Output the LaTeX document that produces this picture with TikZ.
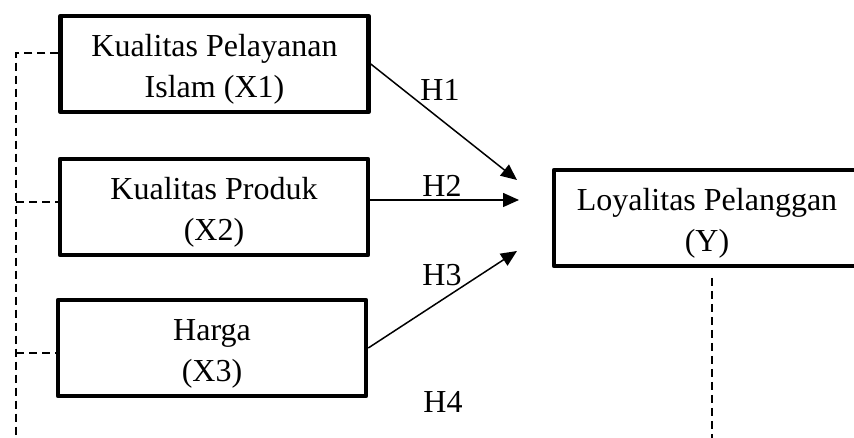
\documentclass[tikz,border=0pt]{standalone}
\usepackage{fontspec}
\setmainfont{Liberation Serif}
\usetikzlibrary{positioning}
\usetikzlibrary{arrows.meta}
\tikzset{var/.style = {draw, line width = 4.5pt, line join = round, align = center,
    minimum width = 308pt, minimum height = 96pt, inner sep = 0,
    font = \fontsize{32}{41}\selectfont}}
\tikzset{hyp/.style = {line width = 1.5pt, -{Triangle[length=16pt, width=14pt]}}}
\tikzset{link/.style = {line width = 1.4pt, dash pattern = on 8pt off 5pt}}
\tikzset{lab/.style = {font = \fontsize{32}{36}\selectfont, inner sep = 0}}
% two lines of a box, set a little below the middle
\newcommand{\twolines}[2]{\rule{0pt}{32pt}#1\\#2}

\begin{document}
\begin{tikzpicture}[x=1pt, y=1pt]
    \useasboundingbox (0,0) rectangle (854,438);
    \node[var] (x1) at (214.5,374) {\twolines{Kualitas Pelayanan}{Islam (X1)}};
    \node[var] (x2) at (214,231) {\twolines{Kualitas Produk}{(X2)}};
    \node[var] (x3) at (212,90) {\twolines{Harga}{(X3)}};
    \node[var, minimum width = 306pt] (y) at (707,220) {\twolines{Loyalitas Pelanggan}{(Y)}};
    % arrow tips
    \coordinate (t1) at (517,258);
    \coordinate (t2) at (519,238);
    \coordinate (t3) at (517,187);
    \draw[hyp] (x1.east) -- (t1);
    \draw[hyp] (x2.east |- t2) -- (t2);
    \draw[hyp] (x3.east) -- (t3);
    \node[lab] (h1) at (440,348) {H1};
    \node[lab] (h2) at (442,252) {H2};
    \node[lab] (h3) at (442,163) {H3};
    \node[lab] (h4) at (443,36) {H4};
    % dashed link on the left
    \coordinate (l1) at (16,385);
    \coordinate (l2) at (16,236);
    \coordinate (l3) at (16,85);
    \coordinate (lb) at (16,0);
    \draw[link] (x1.west |- l1) -- (l1) -- (lb);
    \draw[link] (l2) -- (x2.west |- l2);
    \draw[link] (l3) -- (x3.west |- l3);
    % dashed link below y
    \coordinate (r1) at (712,160);
    \coordinate (rb) at (712,0);
    \draw[link] (r1) -- (rb);
  \end{tikzpicture}
\end{document}
